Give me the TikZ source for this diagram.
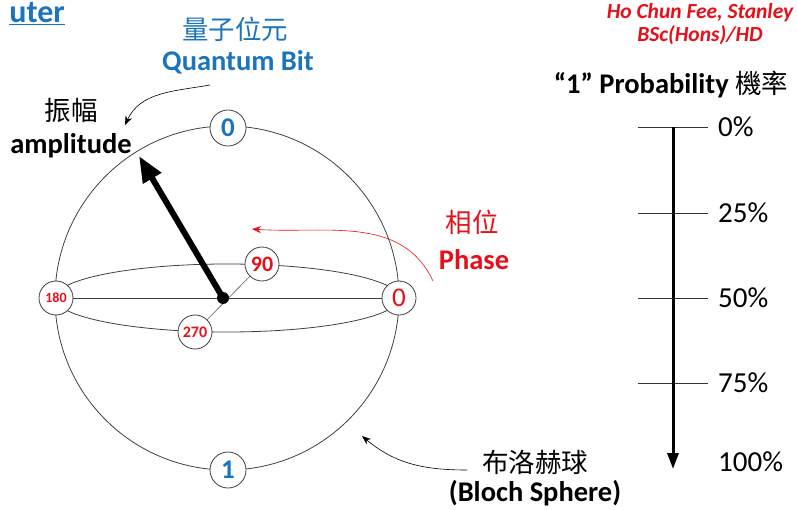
\documentclass[tikz,border=0pt]{standalone}
\usepackage{fontspec}
\setmainfont{Carlito}
\newfontfamily\cjk{Noto Sans CJK TC}
\usetikzlibrary{positioning, arrows.meta}
\definecolor{qblue}{RGB}{28,117,188}
\definecolor{qred}{RGB}{232,16,24}
\tikzset{
	zhtext/.style={inner sep=0pt, font=\cjk\fontsize{26.5}{28}\selectfont},
	entext/.style={inner sep=0pt, font=\bfseries\fontsize{28.5}{30}\selectfont},
	pct/.style={inner sep=0pt, anchor=west, font=\fontsize{29}{30}\selectfont},
	thinarrow/.style={-{Stealth[length=9pt, width=7pt]}, line width=0.6pt}
}
\begin{document}
\begin{tikzpicture}[x=1pt, y=-1pt,
		sphereline/.style={draw=black!75, line width=0.8pt},
		pole/.style={circle, draw=black!75, fill=white, line width=0.8pt, inner sep=0pt, minimum size=36pt, text=qblue, font=\bfseries\fontsize{27}{27}\selectfont},
		phase/.style={circle, draw=black!75, fill=white, line width=0.8pt, inner sep=0pt, minimum size=34pt, text=qred, font=\bfseries\fontsize{22}{22}\selectfont},
		amparrow/.style={-{Triangle[length=26pt, width=20pt]}, line width=6pt},
		tick/.style={draw=black!80, line width=0.8pt}
		]
		\useasboundingbox (0,0) rectangle (797,510);
		
		% sphere
		\draw[sphereline] (227,298) circle[radius=172pt];
		\draw[sphereline] (227,298) ellipse[x radius=172pt, y radius=34pt];
		
		\node[pole] (zero) at (228,128) {0};
		\node[pole] (one) at (228,470) {1};
		\node[phase, font=\fontsize{27}{27}\selectfont] (p0) at (399,298) {0};
		\node[phase] (p90) at (262,264) {90};
		\node[phase, font=\bfseries\fontsize{14}{14}\selectfont] (p180) at (56,298) {180};
		\node[phase, font=\bfseries\fontsize{16}{16}\selectfont] (p270) at (195,332) {270};
		
		\draw[sphereline] (p180) -- (p0);
		\draw[sphereline, draw=black!65, line width=0.6pt] (p90) -- (p270);
		
		% state vector
		\node[circle, fill=black, inner sep=0pt, minimum size=12pt] (origin) at (223,298) {};
		\coordinate (tip) at (139,156);
		\draw[amparrow] (origin.center) -- (tip);
		
		% labels
		\node[anchor=east, inner sep=0pt, text=qblue, font=\bfseries\fontsize{32}{34}\selectfont] (title) at (65,14) {\underline{uter}};
		\node[zhtext, text=qblue] (qbzh) at (235,29) {量子位元};
		\node[entext, text=qblue] (qben) at (238,62) {Quantum Bit};
		\node[zhtext] (ampzh) at (71,110) {振幅};
		\node[entext] (ampen) at (71,146) {amplitude};
		\node[zhtext, text=qred] (phzh) at (472,222) {相位};
		\node[entext, text=qred] (phen) at (474,260) {Phase};
		\node[zhtext] (blzh) at (535,462) {布洛赫球};
		\node[entext] (blen) at (535,493) {(Bloch Sphere)};
		\node[inner sep=0pt, text=qred, font=\bfseries\itshape\fontsize{21.5}{23}\selectfont, align=center] (author) at (700,24) {Ho Chun Fee, Stanley\\BSc(Hons)/HD};
		\node[inner sep=0pt, font=\fontsize{28.5}{30}\selectfont] (probtitle) at (671,85) {\textbf{“1” Probability} {\cjk\fontsize{26.5}{28}\selectfont 機率}};
		
		% pointers
		\coordinate (qbstart) at (210,85);
		\coordinate (ampend) at (125,125);
		\draw[thinarrow] (qbstart) to[out=190, in=65] (ampend);
		\coordinate (phstart) at (433,281);
		\coordinate (phend) at (252,229);
		\draw[thinarrow, draw=qred] (phstart) to[out=115, in=-4] (phend);
		\coordinate (blstart) at (467,470);
		\coordinate (blend) at (362,436);
		\draw[thinarrow] (blstart) to[out=180, in=-40] (blend);
		
		% probability scale
		\foreach \p/\y in {0/127, 25/213, 50/298, 75/383}{
			\draw[tick] (638,\y) -- (708,\y);
			\node[pct] (pct\p) at (718,\y) {\p\%};
		}
		\node[pct] (pct100) at (718,462) {100\%};
		\coordinate (ptop) at (673,127);
		\coordinate (pbot) at (673,469);
		\draw[-{Triangle[length=16pt, width=11pt]}, line width=3pt] (ptop) -- (pbot);
	\end{tikzpicture}
\end{document}
